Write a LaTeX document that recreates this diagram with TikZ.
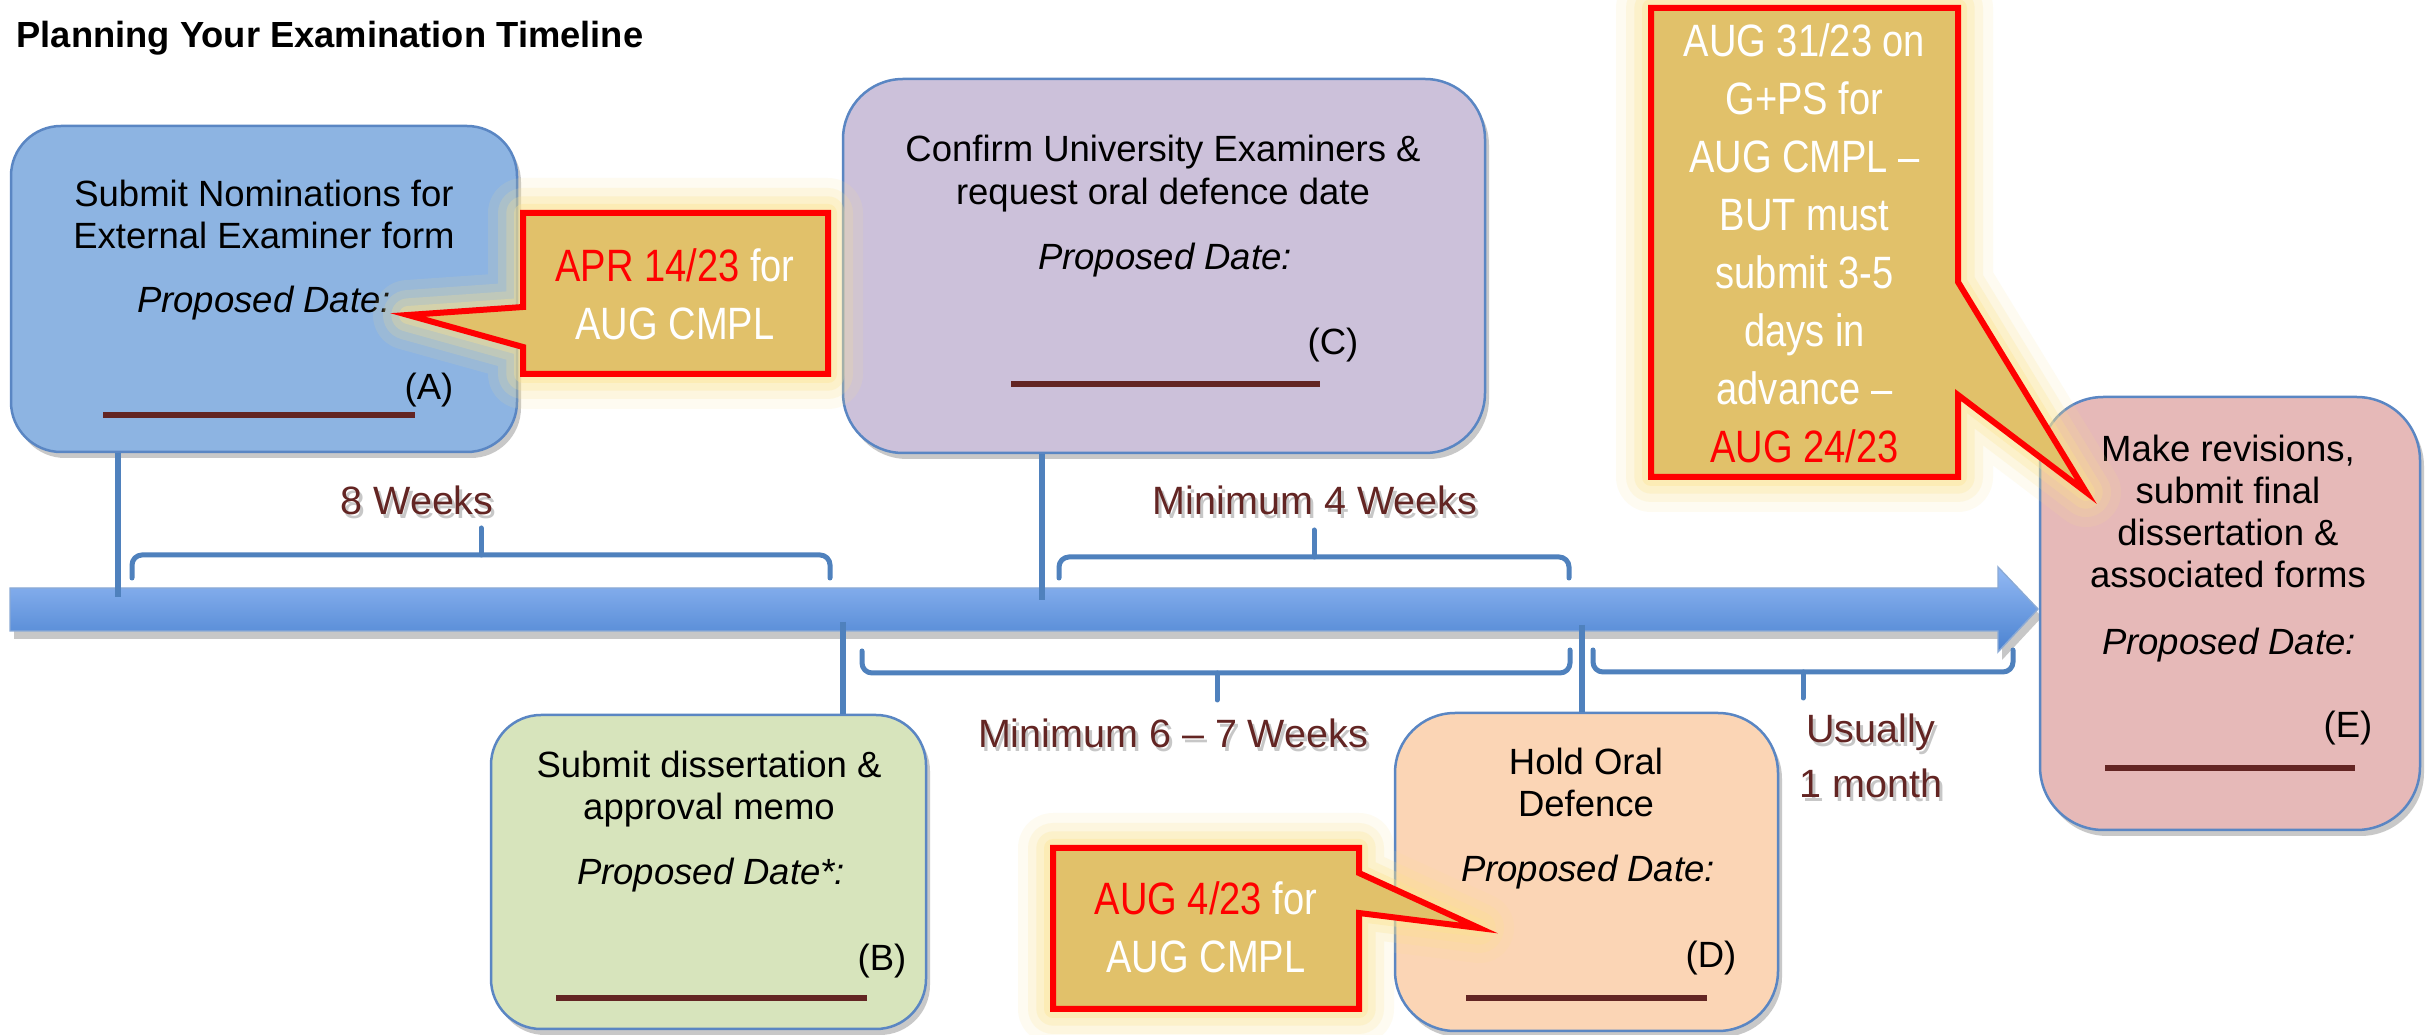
\documentclass[tikz,border=0pt]{standalone}
\usepackage{fontspec}
\setmainfont{Liberation Sans}
\newfontfamily\condfont[FakeStretch=0.84]{Liberation Sans}
\usetikzlibrary{shadows}

\definecolor{boxblue}{HTML}{8DB4E2}
\definecolor{boxgreen}{HTML}{D7E4BC}
\definecolor{boxpurple}{HTML}{CCC1DA}
\definecolor{boxpeach}{HTML}{FBD5B5}
\definecolor{boxpink}{HTML}{E6B9B8}
\definecolor{edgeblue}{HTML}{5A86C3}
\definecolor{linkblue}{HTML}{4F81BD}
\definecolor{darkred}{HTML}{632523}
\definecolor{callfill}{HTML}{E1C16A}
\definecolor{glowc}{HTML}{FCE38E}
\definecolor{bartop}{HTML}{93B9F4}
\definecolor{barbot}{HTML}{4A82D0}

\newcommand\boxtext{\fontsize{10.95pt}{12.6pt}\selectfont}
\newcommand\lbltext{\fontsize{11.85pt}{16.5pt}\selectfont}
\newcommand\calltext{\condfont\fontsize{13.6pt}{17.4pt}\selectfont}
\newcommand\stack[1]{\begin{tabular}[t]{@{}c@{}}#1\end{tabular}}
\newcommand\glowpath[1]{%
  \draw[draw=glowc, line width=21pt, opacity=0.12, line join=round] #1;
  \draw[draw=glowc, line width=15pt, opacity=0.18, line join=round] #1;
  \draw[draw=glowc, line width=10pt, opacity=0.25, line join=round] #1;
  \draw[draw=glowc, line width=5.4pt, opacity=0.35, line join=round] #1;
  \draw[fill=callfill, draw=red, line width=1.8pt, line join=miter] #1;}

\begin{document}
\begin{tikzpicture}[x=0.3pt, y=-0.3pt,
  box/.style={draw=edgeblue, line width=0.75pt, inner sep=0pt,
    drop shadow={shadow xshift=1.2pt, shadow yshift=-1.8pt, opacity=0.3, fill=black!70}},
  underline/.style={draw=darkred, line width=1.8pt},
  tick/.style={draw=linkblue, line width=1.6pt},
  brace/.style={draw=linkblue, line width=1.5pt, rounded corners=3pt, line cap=round},
  btxt/.style={inner sep=0pt, font=\boxtext},
  lbl/.style={inner sep=0pt, text=darkred, font=\lbltext},
  lblsh/.style={inner sep=0pt, text=black, opacity=0.22, font=\lbltext},
  ctxt/.style={inner sep=0pt, text=white, font=\calltext}]

\path[use as bounding box, fill=white] (0,0) rectangle (2427,1035);

% title
\node[anchor=base west, inner sep=0pt, font={\bfseries\fontsize{10.9pt}{13pt}\selectfont}] (title) at (16,48) {Planning Your Examination Timeline};

% timeline bar
\fill[black, opacity=0.22] (14,596) -- (2002,596) -- (2002,575) -- (2042,617) -- (2002,660) -- (2002,639) -- (14,639) -- cycle;
\shade[top color=bartop, bottom color=barbot, draw=edgeblue!70, line width=0.4pt]
  (10,588) -- (1998,588) -- (1998,567) -- (2038,609) -- (1998,652) -- (1998,631) -- (10,631) -- cycle;

\coordinate (tA) at (118,597);
\coordinate (tB) at (843,622);
\coordinate (tC) at (1042,600);
\coordinate (tD) at (1582,625);

% boxes
\node[box, fill=boxblue, rounded corners=15pt, minimum width=151.8pt, minimum height=97.8pt] (A) at (264,289) {};
\node[box, fill=boxgreen, rounded corners=15pt, minimum width=130.5pt, minimum height=94.2pt] (B) at (708.5,872) {};
\node[box, fill=boxpurple, rounded corners=18pt, minimum width=192.6pt, minimum height=112.2pt] (C) at (1164,266) {};
\node[box, fill=boxpeach, rounded corners=18pt, minimum width=114.9pt, minimum height=95.4pt] (D) at (1586.5,872) {};
\node[box, fill=boxpink, rounded corners=19pt, minimum width=114pt, minimum height=129.9pt] (E) at (2230,613.5) {};

% ticks
\draw[tick] (A.south -| tA) -- (tA);
\draw[tick] (C.south -| tC) -- (tC);
\draw[tick] (tB) -- (tB |- B.north);
\draw[tick] (tD) -- (tD |- D.north);

% braces
\draw[brace] (132,578) -- (132,555) -- (830,555) -- (830,578);
\draw[brace] (481,555) -- (481,528);
\draw[brace] (1059,578) -- (1059,557) -- (1569,557) -- (1569,578);
\draw[brace] (1314,557) -- (1314,530);
\draw[brace] (862,651) -- (862,673) -- (1570,673) -- (1570,650);
\draw[brace] (1217,673) -- (1217,700);
\draw[brace] (1593,650) -- (1593,672) -- (2013,672) -- (2013,650);
\draw[brace] (1803,672) -- (1803,698);

% brace labels
\node[lblsh, anchor=base] (l1s) at (420,519) {8 Weeks};
\node[lbl, anchor=base] (l1) at (417,515) {8 Weeks};
\node[lblsh, anchor=base] (l2s) at (1318,519) {Minimum 4 Weeks};
\node[lbl, anchor=base] (l2) at (1315,515) {Minimum 4 Weeks};
\node[lblsh, anchor=base] (l3s) at (1176,752) {Minimum 6 – 7 Weeks};
\node[lbl, anchor=base] (l3) at (1173,748) {Minimum 6 – 7 Weeks};
\node[lblsh, anchor=base] (l4s) at (1874,747) {\stack{Usually\\1 month}};
\node[lbl, anchor=base] (l4) at (1871,743) {\stack{Usually\\1 month}};

% box texts
\node[btxt, anchor=base] (At) at (264,207) {\stack{Submit Nominations for\\External Examiner form}};
\node[btxt, anchor=base] (Ap) at (264,313) {\itshape Proposed Date:};
\node[btxt, anchor=base east] (Al) at (454,400) {(A)};
\draw[underline] (103,415) -- (415,415);

\node[btxt, anchor=base] (Bt) at (709,778) {\stack{Submit dissertation \&\\approval memo}};
\node[btxt, anchor=base] (Bp) at (711,885) {\itshape Proposed Date*:};
\node[btxt, anchor=base east] (Bl) at (907,970) {(B)};
\draw[underline] (556,998) -- (867,998);

\node[btxt, anchor=base] (Ct) at (1163,162) {\fontsize{10.95pt}{12.9pt}\selectfont\stack{Confirm University Examiners \&\\request oral defence date}};
\node[btxt, anchor=base] (Cp) at (1165,270) {\itshape Proposed Date:};
\node[btxt, anchor=base east] (Cl) at (1359,355) {(C)};
\draw[underline] (1011,384) -- (1320,384);

\node[btxt, anchor=base] (Dt) at (1586,775) {\stack{Hold Oral\\Defence}};
\node[btxt, anchor=base] (Dp) at (1588,882) {\itshape Proposed Date:};
\node[btxt, anchor=base east] (Dl) at (1737,968) {(D)};
\draw[underline] (1466,998) -- (1707,998);

\node[btxt, anchor=base] (Et) at (2228,462) {\stack{Make revisions,\\submit final\\dissertation \&\\associated forms}};
\node[btxt, anchor=base] (Ep) at (2229,655) {\itshape Proposed Date:};
\node[btxt, anchor=base east] (El) at (2373,738) {(E)};
\draw[underline] (2105,768) -- (2355,768);

% callouts
\glowpath{(523,213) -- (828,213) -- (828,374) -- (523,374) -- (523,347) -- (408,315) -- (523,307) -- cycle}
\node[ctxt, anchor=base] (cA) at (675,282) {\stack{\textcolor{red}{APR 14/23} for\\AUG CMPL}};

\glowpath{(1053,848) -- (1359,848) -- (1359,873) -- (1479,928) -- (1359,913) -- (1359,1009) -- (1053,1009) -- cycle}
\node[ctxt, anchor=base] (cD) at (1206,915) {\stack{\textcolor{red}{AUG 4/23} for\\AUG CMPL}};

\glowpath{(1651,8) -- (1958,8) -- (1958,282) -- (2086,492) -- (1958,395) -- (1958,477) -- (1651,477) -- cycle}
\node[ctxt, anchor=base] (cE) at (1804.5,57) {\stack{AUG 31/23 on\\G+PS for\\AUG CMPL –\\BUT must\\submit 3-5\\days in\\advance –\\\textcolor{red}{AUG 24/23}}};

\end{tikzpicture}
\end{document}
